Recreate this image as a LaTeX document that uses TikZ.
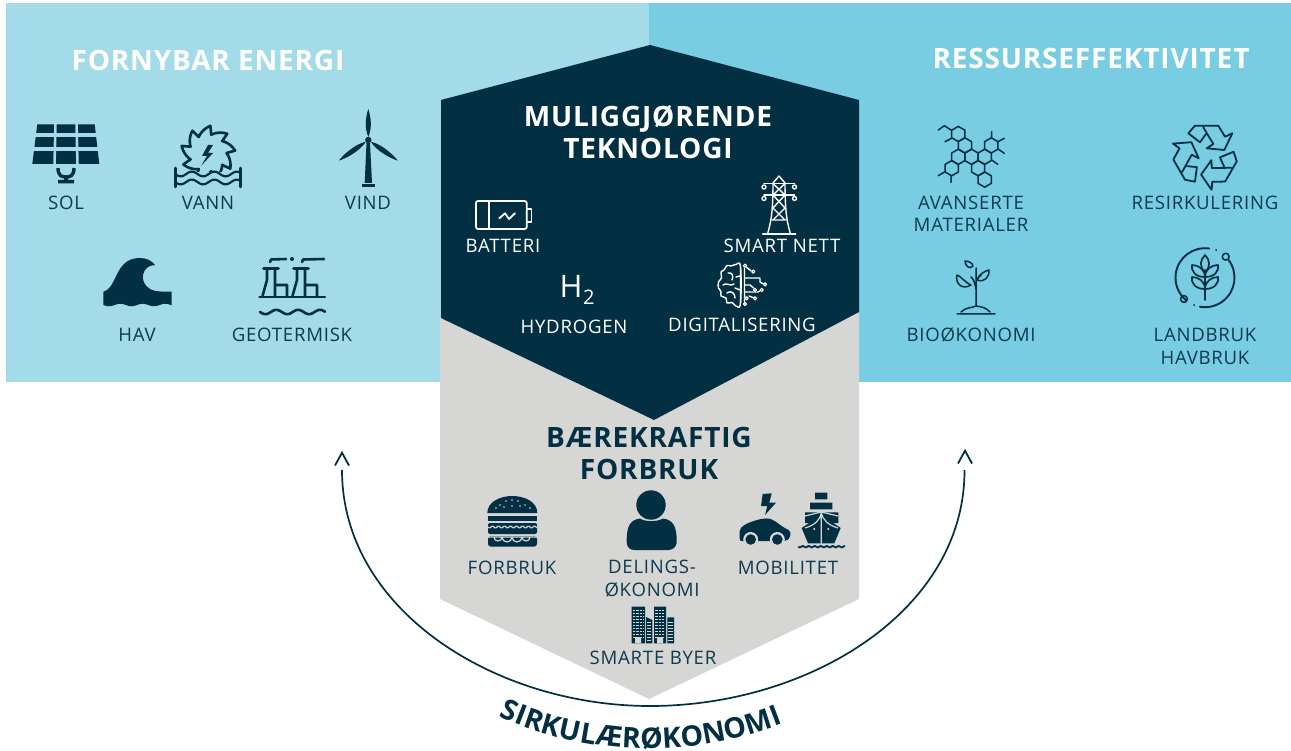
\documentclass[tikz,border=0pt]{standalone}
\usepackage{fontspec}
\usepackage{xcolor}
\setmainfont{Open Sans}[LetterSpace=4.0]
\newfontfamily\headfont{Open Sans}[LetterSpace=3.0]
\usetikzlibrary{decorations.text}

\definecolor{ink}{HTML}{022F41}
\definecolor{labelink}{HTML}{0F3A4E}
\definecolor{skylight}{HTML}{A3DBE9}
\definecolor{skydeep}{HTML}{78CDE3}
\definecolor{greypanel}{HTML}{D6D6D5}

% one hexagon of the molecule
\newcommand{\hexa}[2]{%
    \draw[thinink] (#1,#2-7.6) -- (#1+6.6,#2-3.8) -- (#1+6.6,#2+3.8) -- (#1,#2+7.6) -- (#1-6.6,#2+3.8) -- (#1-6.6,#2-3.8) -- cycle;}

\begin{document}
\begin{tikzpicture}[x=1pt,y=-1pt]
    \tikzstyle{lab} = [font=\fontsize{18.6}{22.8}\selectfont, align=center, text=labelink, inner sep=0pt, yshift=-0.8pt]
    \tikzstyle{wlab} = [lab, text=white]
    \tikzstyle{headlab} = [font=\headfont\bfseries\fontsize{28}{32}\selectfont, align=center, inner sep=0pt]
    \tikzstyle{thinink} = [draw=ink, line width=1.5pt, line join=round, line cap=round]
    \tikzstyle{midink} = [draw=ink, line width=2.6pt, line join=round, line cap=round]
    \tikzstyle{thinwhite} = [draw=white, line width=1.4pt, line join=round, line cap=round]

    \useasboundingbox (0,0) rectangle (1291,751);

    % Panels
    \fill[skylight] (6,3) rectangle (649,382);
    \fill[skydeep] (649,3) rectangle (1291,382);
    \fill[greypanel] (440,318) -- (654,420) -- (859,312) -- (859,599) -- (649,699) -- (440,599) -- cycle;
    \fill[ink] (441,100) -- (650,45) -- (859,100) -- (859,312) -- (654,420) -- (441,318) -- cycle;

    % Titles
    \node[headlab, text=white] (fornybar) at (208,60) {FORNYBAR ENERGI};
    \node[headlab, text=white] (ressurs) at (1091,59) {RESSURSEFFEKTIVITET};
    \node[headlab, text=white] (muliggj) at (648,132) {MULIGGJØRENDE\\TEKNOLOGI};
    \node[headlab, text=ink] (baere) at (649,453) {BÆREKRAFTIG\\FORBRUK};

    % Labels
    \node[lab] (sol) at (66,202) {SOL};
    \node[lab] (vann) at (208,202) {VANN};
    \node[lab] (vind) at (368,202) {VIND};
    \node[lab] (hav) at (137,334) {HAV};
    \node[lab] (geoterm) at (292,334) {GEOTERMISK};
    \node[lab] (avansert) at (971,213) {AVANSERTE\\MATERIALER};
    \node[lab] (resirk) at (1205,202) {RESIRKULERING};
    \node[lab] (bio) at (971,334) {BIOØKONOMI};
    \node[lab] (landbruk) at (1205,345.5) {LANDBRUK\\HAVBRUK};
    \node[wlab] (batteri) at (503,245) {BATTERI};
    \node[wlab] (nett) at (782,245) {SMART NETT};
    \node[wlab] (hydrogen) at (574,326) {HYDROGEN};
    \node[wlab] (digital) at (742,324) {DIGITALISERING};
    \node[lab] (forbruk) at (512,567) {FORBRUK};
    \node[lab] (deling) at (652,578) {DELINGS-\\ØKONOMI};
    \node[lab] (mobil) at (788,567) {MOBILITET};
    \node[lab] (byer) at (653,657) {SMARTE BYER};
    \node[text=white, inner sep=0pt, font=\fontsize{31}{31}\selectfont, anchor=base west] (htwo) at (559.5,297.5) {H};
    \node[text=white, inner sep=0pt, font=\fontsize{20}{20}\selectfont, anchor=base west] (htwosub) at (583,304.5) {2};

    % Sun panel
    \fill[ink] (37.3,124.3) -- (94.7,124.3) -- (99.3,164) -- (32.3,164) -- cycle;
    \draw[skylight, line width=4pt] (30,135.3) -- (102,135.3) (30,149.5) -- (102,149.5);
    \draw[skylight, line width=2.6pt] (55.5,122) -- (54.5,166) (76.5,122) -- (77.5,166);
    \draw[ink, line width=3.4pt] (58,168) .. controls (58,176) and (62,177) .. (66,177) .. controls (70,177) and (74,176) .. (74,168);
    \fill[ink] (64,176) rectangle (68,181) (58,180) rectangle (74,183.5);

    % Water wheel
    \begin{scope}
        \clip (170,120) rectangle (245,172);
        \draw[midink] plot[domain=0:360, samples=73] ({208+(18.5+10*mod(\x,40)/40)*cos(\x)}, {153+(18.5+10*mod(\x,40)/40)*sin(\x)});
    \end{scope}
    \fill[ink] (208,145) -- (202,156) -- (207,156) -- (201,166) -- (213,153) -- (208,153) -- (213,145) -- cycle;
    \draw[midink, line width=2.2pt] plot[domain=175:241, samples=40] (\x,{174+2.4*sin((\x-175)*16)});
    \draw[midink, line width=2.2pt] plot[domain=175:241, samples=40] (\x,{182+2.4*sin((\x-175)*16)});
    \draw[midink] (175.5,168) -- (175.5,187) (240.5,168) -- (240.5,187);

    % Wind turbine
    \foreach \r/\bl in {0/31,125/36,-125/36} {
        \fill[ink, rotate around={\r:(368.3,140)}] (368.3,137) .. controls (364,127) and (366,147-\bl) .. (368.3,140-\bl) .. controls (370.6,147-\bl) and (372.6,127) .. (368.3,137) -- cycle;
    }
    \fill[ink] (368.3,140) circle (3.2);
    \fill[ink] (366.5,143) -- (370,143) -- (372,183) -- (364.7,183) -- cycle;
    \fill[ink] (362.3,184.3) rectangle (375,187);

    % Wave
    \fill[ink] (103.3,291.7) .. controls (118,288) and (114,258) .. (140,258) .. controls (147,258) and (152,261) .. (155,265) .. controls (142,265) and (138,282) .. (150,289) .. controls (155,292) and (165,291.7) .. (171.7,291.7) -- (171.7,305) -- plot[domain=171.7:103.3, samples=30] (\x,{305+1.3*sin((\x-103.3)*16)}) -- cycle;

    % Geothermal plant
    \draw[midink] (270,262) -- (271,259.5) -- (286,259) (302,262) -- (303,259.5) -- (324,259);
    \fill[ink] (292,259) circle (2);
    \foreach \dx in {0,30} {
        \begin{scope}[xshift=\dx]
            \draw[midink] (263.5,268.5) -- (278.5,268.5) (267,270) -- (267,280) -- (262.5,296) (275,270) -- (275,296) (275,285) -- (287,285) -- (287,296);
        \end{scope}
    }
    \draw[midink] (259.5,297) -- (325,297);
    \draw[midink] plot[domain=260:325, samples=40] (\x,{312+2.2*sin((\x-260)*16.5)});

    % Battery
    \draw[thinwhite, line width=1.7pt, rounded corners=2pt] (476,201) rectangle (526.7,229);
    \draw[thinwhite, line width=1.7pt] (527,209) -- (531.5,209) -- (531.5,221.7) -- (527,221.7);
    \draw[thinwhite, line width=1.7pt] (489.3,201) -- (489.3,229);
    \draw[thinwhite, line width=1.8pt] (499.3,218.3) -- (505,213.3) -- (509,219) -- (515,213.3);

    % Pylon
    \draw[thinwhite] (762.7,234) -- (795.7,234);
    \draw[thinwhite] (767.5,234) .. controls (771,222) and (773,212) .. (773,183) -- (779,176) -- (785,183) .. controls (785,212) and (787,222) .. (790.5,234);
    \draw[thinwhite] (764,183.5) -- (794.5,183.5) (764,195) -- (794.5,195);
    \draw[thinwhite] (773,183.5) -- (785,195) (785,183.5) -- (773,195) (773,195) -- (785,208) (785,195) -- (773,208) (773,208) -- (785,220) (785,208) -- (773,220) (772,220) -- (786,220);
    \foreach \cx/\cy in {764/187, 794.5/187, 764/198.5, 794.5/198.5} {
        \draw[thinwhite] (\cx,\cy) circle (2);
    }

    % Brain, left half
    \draw[thinwhite] plot[smooth cycle, tension=0.7] coordinates {(740.5,267) (736,264.5) (731,266) (727,265.5) (724,270) (721,272) (721.5,278) (718.5,282) (718.5,288) (721,291.5) (721,296) (726,298) (727,303) (732,302.5) (736,306) (740.5,303)};
    \draw[thinwhite] (740.5,267) -- (740.5,303) (728,273) .. controls (732,272) and (734,276) .. (732,280) (723,285) .. controls (727,282) and (730,287) .. (734,284) (740,276) -- (736,277) (727,293) .. controls (731,290) and (735,293) .. (735,298) (740,290) -- (735,288);
    % Brain, right half
    \draw[thinwhite] (744.5,267) -- (744.5,303) (746,267) -- (750,270) -- (752,271.5) (744.5,278) -- (760,278) -- (760,282) -- (763.5,284) (744.5,285) -- (750,285) -- (754,288.5) (744.5,292) -- (758,292) -- (760.5,290.5) (744.5,296) -- (746,297) (749,296) -- (753,297.5);
    \foreach \cx/\cy in {745/265.7, 753.3/271.7, 765/284.3, 755/290, 746.7/298.3, 755/298.3, 745/304, 761.7/290} {
        \fill[ink] (\cx,\cy) circle (2.2);
        \draw[thinwhite, line width=1.2pt] (\cx,\cy) circle (1.6);
    }

    % Molecule
    \foreach \hx/\hy in {958.3/134, 964.9/145.4, 971.5/156.8, 958.3/156.8, 984.7/156.8, 991.3/145.4, 951.7/168.2, 978.1/168.2, 984.7/179.6} {
        \hexa{\hx}{\hy}
    }
    \draw[thinink] (938.3,130) -- (944.3,125.7) -- (951,130) (945,141.7) -- (951.7,138.3) (991.7,131.7) -- (991.7,138) (998,141.7) -- (1004.3,138.3) (998,149) -- (1004.3,153.3) (991.7,160) -- (997.7,164.3) (938.3,175.7) -- (945,171.7) (951,175.7) -- (951,182.3);

    % Recycling sign
    \foreach \r in {0,120,240} {
        \draw[thinink, line width=1.8pt, rotate around={\r:(1205.6,155.6)}] (1188.3,133.3) -- (1195,125.7) -- (1218.3,125.7) -- (1225,136.7) -- (1232.3,133.3) -- (1224.3,150) -- (1206.7,148.3) -- (1213.3,144) -- (1203.3,127.3) (1188.3,133.3) -- (1200,142.3) -- (1205.7,134.3);
    }

    % Sprout
    \draw[thinink] (976,306) -- (976,268) (976,289) .. controls (975,283) and (973,278) .. (971,277) (976,282) .. controls (977,279) and (979,276) .. (981,275);
    \draw[thinink] (971,285) .. controls (966,283) and (959,275) .. (957,275) .. controls (955,282) and (961,291) .. (971,285) -- cycle;
    \draw[thinink] (977,280) .. controls (979,274) and (985,271) .. (989,270) .. controls (990,276) and (985,283) .. (977,280) -- cycle;
    \draw[thinink] (973,266) .. controls (973,263) and (968,261) .. (965,261) .. controls (965,266) and (970,270) .. (973,266) -- cycle;
    \draw[thinink] (957,314) -- (995,314) (961,312) .. controls (966,307) and (972,308) .. (976,306) .. controls (982,307) and (985,307) .. (990,312);

    % Wheat in a ring
    \draw[midink, line width=1.9pt] (1205,277.7) ++(-82:29.5) arc[start angle=-82, end angle=-230, radius=29.5];
    \draw[midink, line width=1.9pt] (1205,277.7) ++(-37:29.5) arc[start angle=-37, end angle=100, radius=29.5];
    \draw[thinink] (1225.7,256.7) circle (3.4) (1184,299) circle (3.4);
    \fill[ink] (1216,250) circle (1) (1194,305) circle (1);
    \draw[midink, line width=1.9pt] (1205,270) -- (1205,300);
    \draw[thinink, line width=1.7pt] (1205,255) .. controls (1200,260) and (1199,267) .. (1205,272) .. controls (1211,267) and (1210,260) .. (1205,255) -- cycle;
    \foreach \wy in {269,281} {
        \draw[thinink, line width=1.7pt] (1205,\wy+8) .. controls (1205,\wy) and (1198,\wy-4) .. (1192,\wy-4) .. controls (1191,\wy+3) and (1196,\wy+8) .. (1205,\wy+8) .. controls (1214,\wy+8) and (1219,\wy+3) .. (1218,\wy-4) .. controls (1212,\wy-4) and (1205,\wy) .. (1205,\wy+8);
    }

    % Burger
    \fill[ink] (487.3,513) .. controls (487.3,502) and (500,496) .. (512,496) .. controls (525,496) and (537.3,502) .. (537.3,513) -- cycle;
    \foreach \sx/\sy in {500/505, 506/501, 512/500, 518/501, 525/505, 496/508, 512/506, 520/506, 530/508, 504/507} {
        \fill[greypanel] (\sx,\sy) circle (0.8);
    }
    \fill[ink] (488,516) rectangle (537,520.5);
    \fill[ink, rounded corners=2pt] (488,523) rectangle (537,534);
    \draw[greypanel, line width=1.2pt] plot[domain=488:537, samples=50] (\x,{527+1*sin((\x-488)*60)});
    \fill[ink, rounded corners=3pt] (488,536) rectangle (537,546.7);
    \draw[greypanel, line width=1.2pt] (488,537) -- (537,537) (494,537) arc[start angle=180, end angle=0, radius=4] (502,537) arc[start angle=180, end angle=0, radius=5] (512,537) arc[start angle=180, end angle=0, radius=5] (522,537) arc[start angle=180, end angle=0, radius=4];

    % Person
    \fill[ink] (651,505) circle (14.7);
    \fill[ink] (626.7,541) .. controls (626.7,526) and (630,520) .. (640,518.5) .. controls (645,522) and (657,522) .. (663,518.5) .. controls (673,520) and (676.7,526) .. (676.7,541) .. controls (676.7,548) and (672,550) .. (668,550) -- (635,550) .. controls (630,550) and (626.7,548) .. (626.7,541) -- cycle;

    % Electric car
    \fill[ink] (762.7,494) -- (771.7,493.3) -- (769.3,502.7) -- (776,502.7) -- (765,515) -- (767.3,506) -- (761,506) -- cycle;
    \fill[ink, rounded corners=2pt] (739.7,541) -- (739.7,529) -- (745,524.5) .. controls (755,520) and (766,517) .. (773,520) .. controls (778,523) and (782,527) .. (790.7,531) -- (790,538) -- (786,541) -- cycle;
    \foreach \wx in {750.7,777.3} {
        \fill[greypanel] (\wx,539.5) circle (7.5);
        \fill[ink] (\wx,539.5) circle (5.3);
    }

    % Ship
    \fill[ink] (815,492.7) rectangle (827.3,499.3) (810,502.7) rectangle (832.3,509.3) (805,512.3) rectangle (838.3,523);
    \fill[ink] (801.7,528) -- (821.3,515) -- (840.7,528) -- (834.3,543.3) -- (808,543.3) -- cycle;
    \draw[greypanel, line width=1.2pt] (805,516) -- (821.3,512) -- (838,516) (805,528) .. controls (815,525) and (820,520) .. (821.3,513) .. controls (823,520) and (828,525) .. (838,528) (821.3,513) -- (821.3,544);
    \fill[greypanel] (814.3,529) circle (1.1) (828.3,529) circle (1.1);
    \draw[ink, line width=1.8pt] plot[domain=798.3:845, samples=40] (\x,{546.7+0.7*sin((\x-798.3)*60)});

    % City
    \fill[ink] (631.7,606.7) rectangle (645,643.3) (654,606.7) rectangle (666,643.3) (667.3,617.3) rectangle (674,643.3);
    \fill[ink] (646,617) -- (652.3,620) -- (652.3,643.3) -- (646,643.3) -- cycle;
    \foreach \wy in {610,613,...,637} {
        \draw[greypanel, line width=0.9pt] (633,\wy) -- (644,\wy) (655.3,\wy) -- (664.7,\wy);
    }
    \foreach \wy in {622,625,...,640} {
        \draw[greypanel, line width=0.9pt] (647,\wy) -- (651.3,\wy) (668.3,\wy) -- (673,\wy);
    }
    \foreach \wx in {635.5,639,...,644} {
        \draw[ink, line width=0.9pt] (\wx,608) -- (\wx,640);
    }
    \foreach \wx in {658,661,...,665} {
        \draw[ink, line width=0.9pt] (\wx,608) -- (\wx,640);
    }
    \fill[greypanel] (635,637) rectangle (641,643.3) (657,637) rectangle (663,643.3);

    % Circular arc
    \coordinate (arcL) at (342,470);
    \coordinate (arcB) at (650,706);
    \coordinate (arcR) at (964.5,470);
    \draw[ink, line width=1.7pt] (arcL) .. controls (342,610) and (495,706) .. (arcB) .. controls (810,706) and (965,610) .. (arcR);

    % Arrow heads, apart from the arc
    \draw[ink, line width=1.8pt] (335,465.5) -- (342,452.7) -- (349,465.5);
    \draw[ink, line width=1.8pt] (958,463.5) -- (965,450.7) -- (972,463.5);

    % Curved title
    \path[decorate, decoration={text along path, text align=center, text={|\color{ink}\headfont\bfseries\fontsize{28.4}{28}\selectfont|SIRKULÆRØKONOMI}}] (497,715.5) .. controls (590,758.5) and (695,758.5) .. (785,722.5);
\end{tikzpicture}
\end{document}
